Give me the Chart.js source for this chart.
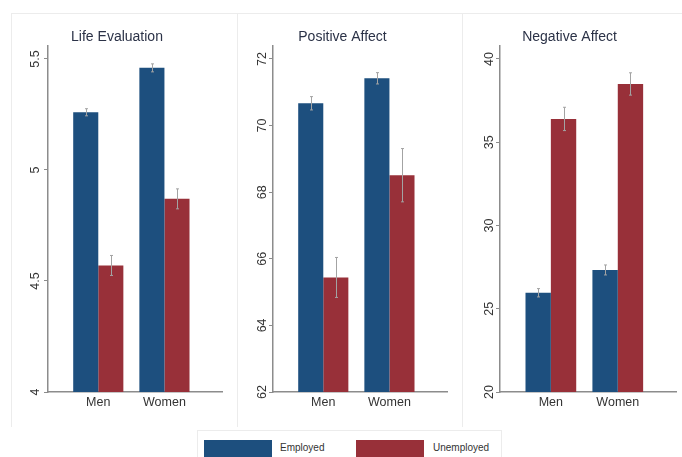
<!DOCTYPE html>
<html>
<head>
<meta charset="utf-8">
<script src="https://cdn.jsdelivr.net/npm/chart.js@4.4.1/dist/chart.umd.min.js"></script>
<style>
  html, body { margin: 0; padding: 0; background: #ffffff; }
  body { width: 682px; height: 457px; position: relative; overflow: hidden; font-family: "Liberation Sans", Arial, sans-serif; }
  .panel { position: absolute; top: 13px; height: 414px; border-left: 1px solid #ececec; border-top: 1px solid #ececec; box-sizing: border-box; }
  canvas.chart { position: absolute; top: 13px; }
  #legend { position: absolute; left: 197px; top: 430px; width: 305px; height: 40px; border: 1px solid #ececec; box-sizing: border-box; }
  .sw { position: absolute; top: 9px; width: 68px; height: 20px; }
  .lt { position: absolute; top: 11px; font-size: 10px; color: #333; }
</style>
</head>
<body>
<div class="panel" style="left:11px;width:227px;"></div>
<div class="panel" style="left:237px;width:226px;"></div>
<div class="panel" style="left:462px;width:230px;"></div>

<canvas id="c1" class="chart" style="left:12px" width="224" height="405"></canvas>
<canvas id="c2" class="chart" style="left:238px" width="223" height="405"></canvas>
<canvas id="c3" class="chart" style="left:463px" width="219" height="405"></canvas>

<div id="legend">
  <div class="sw" style="left:6px;background:#1d4f7e"></div>
  <div class="lt" style="left:82px">Employed</div>
  <div class="sw" style="left:158px;background:#983039"></div>
  <div class="lt" style="left:235px">Unemployed</div>
</div>

<script>
// Groups and series
const groups = ['Men', 'Women'];
const seriesNames = ['Employed', 'Unemployed'];

// Life Evaluation
const lifeEmployed = [5.26, 5.46];
const lifeUnemployed = [4.57, 4.87];
const lifeEmployedErr = [0.016, 0.018];
const lifeUnemployedErr = [0.045, 0.045];
const lifeTicks = [4, 4.5, 5, 5.5];
const lifeTickLabels = ['4', '4.5', '5', '5.5'];

// Positive Affect
const posEmployed = [70.67, 71.42];
const posUnemployed = [65.44, 68.51];
const posEmployedErr = [0.2, 0.17];
const posUnemployedErr = [0.6, 0.8];
const posTicks = [62, 64, 66, 68, 70, 72];
const posTickLabels = ['62', '64', '66', '68', '70', '72'];

// Negative Affect
const negEmployed = [25.96, 27.33];
const negUnemployed = [36.4, 38.5];
const negEmployedErr = [0.25, 0.3];
const negUnemployedErr = [0.7, 0.67];
const negTicks = [20, 25, 30, 35, 40];
const negTickLabels = ['20', '25', '30', '35', '40'];

const BLUE = '#1d4f7e';
const RED = '#983039';
const AXIS = '#8c8c8c';
const FONT = '"Liberation Sans", Arial, sans-serif';

// Thin grey confidence whiskers on top of every bar
const errorBars = {
  id: 'errorBars',
  afterDatasetsDraw(chart) {
    const ctx = chart.ctx;
    const y = chart.scales.y;
    ctx.save();
    ctx.strokeStyle = '#a3a3a3';
    ctx.lineWidth = 1;
    chart.data.datasets.forEach((ds, di) => {
      const meta = chart.getDatasetMeta(di);
      meta.data.forEach((bar, i) => {
        const v = ds.data[i].y, e = ds.errors[i];
        const top = y.getPixelForValue(v + e);
        const bot = y.getPixelForValue(v - e);
        const x = Math.round(bar.x) + 0.5;
        ctx.beginPath();
        ctx.moveTo(x, top); ctx.lineTo(x, bot);
        ctx.moveTo(x - 1.5, top); ctx.lineTo(x + 1.5, top);
        ctx.moveTo(x - 1.5, bot); ctx.lineTo(x + 1.5, bot);
        ctx.stroke();
      });
    });
    ctx.restore();
  }
};

function points(values) {
  return values.map((v, i) => ({ x: i + 1, y: v }));
}

function makePanel(id, title, emp, unemp, empErr, unempErr, ticks, tickLabels, axisWidth, padRight) {
  const lo = ticks[0], hi = ticks[ticks.length - 1];
  return new Chart(document.getElementById(id), {
    type: 'bar',
    data: {
      datasets: [
        { label: seriesNames[0], data: points(emp), errors: empErr, backgroundColor: BLUE, borderWidth: 0 },
        { label: seriesNames[1], data: points(unemp), errors: unempErr, backgroundColor: RED, borderWidth: 0 }
      ]
    },
    options: {
      responsive: false,
      animation: false,
      categoryPercentage: 0.758,
      barPercentage: 1,
      layout: { padding: { left: 0, right: padRight, top: 0, bottom: 0 } },
      plugins: {
        legend: { display: false },
        tooltip: { enabled: false },
        title: {
          display: true,
          text: title,
          color: '#2b3247',
          font: { family: FONT, size: 14, weight: 'normal' },
          padding: { top: 16, bottom: 0.2 }
        }
      },
      scales: {
        x: {
          type: 'linear',
          offset: false,
          bounds: 'data',
          grace: 0,
          min: 0.24,
          max: 2.87,
          afterBuildTicks: s => { s.ticks = groups.map((g, i) => ({ value: i + 1 })); },
          afterFit: s => { s.height = 26; },
          grid: { display: false, drawTicks: false, offset: false },
          border: { display: true, color: AXIS, width: 1.5 },
          ticks: {
            padding: 3,
            color: '#333',
            font: { family: FONT, size: 12.5 },
            callback: v => groups[v - 1]
          }
        },
        y: {
          min: lo,
          max: hi + (hi - lo) * 0.039,
          afterBuildTicks: s => { s.ticks = ticks.map(v => ({ value: v })); },
          afterFit: s => { s.width = axisWidth; },
          grid: { drawOnChartArea: false, drawTicks: true, tickLength: 4, color: AXIS, lineWidth: 1 },
          border: { display: true, color: AXIS, width: 1.5 },
          ticks: {
            padding: 0,
            minRotation: 90,
            maxRotation: 90,
            crossAlign: 'center',
            color: '#333',
            font: { family: FONT, size: 12.5 },
            callback: (v, i) => tickLabels[i]
          }
        }
      }
    },
    plugins: [errorBars]
  });
}

makePanel('c1', 'Life Evaluation', lifeEmployed, lifeUnemployed, lifeEmployedErr, lifeUnemployedErr, lifeTicks, lifeTickLabels, 36, 14);
makePanel('c2', 'Positive Affect', posEmployed, posUnemployed, posEmployedErr, posUnemployedErr, posTicks, posTickLabels, 35, 14);
makePanel('c3', 'Negative Affect', negEmployed, negUnemployed, negEmployedErr, negUnemployedErr, negTicks, negTickLabels, 37, 6);
</script>
</body>
</html>
